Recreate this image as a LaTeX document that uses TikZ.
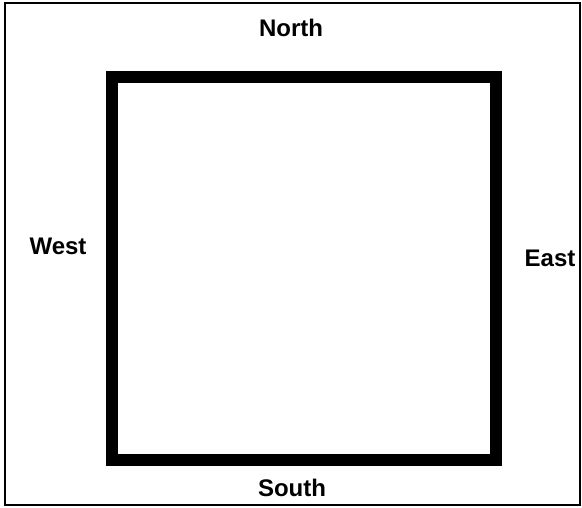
\documentclass[tikz,border=0pt]{standalone}
\usepackage{fontspec}
\setmainfont{Liberation Sans}
\usetikzlibrary{positioning}

\begin{document}
\begin{tikzpicture}[
  x=1pt, y=-1pt,
  room/.style={
    rectangle, draw=black, line width=12pt,
    minimum width=384pt, minimum height=383pt,
    inner sep=0pt
  },
  compass/.style={font=\bfseries\fontsize{24}{24}\selectfont, inner sep=0pt},
  frame/.style={draw=black, line width=1.5pt}
]
\useasboundingbox (0,0) rectangle (582,507);

% Outer frame
\draw[frame] (5,3) rectangle (580,505);

% The square
\node[room] (room) at (304,268.5) {};

% Compass labels
\node[compass] (north) at (291,28)  {North};
\node[compass] (west)  at (58,246)  {West};
\node[compass] (east)  at (550,258) {East};
\node[compass] (south) at (292,488) {South};

\end{tikzpicture}
\end{document}
